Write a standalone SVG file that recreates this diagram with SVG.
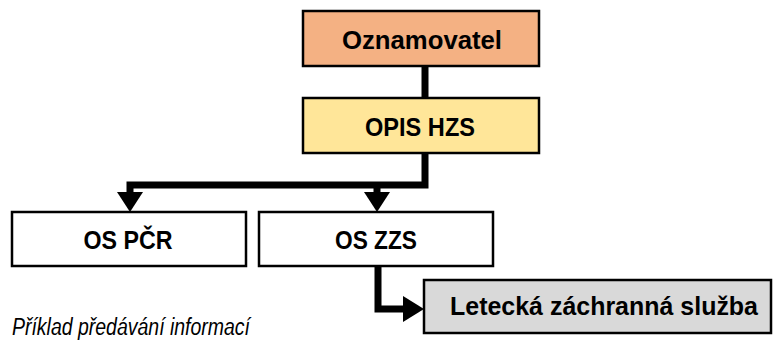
<svg xmlns="http://www.w3.org/2000/svg" width="773" height="343" viewBox="0 0 773 343">
<defs>
<style>
.box{stroke:#000;stroke-width:2.5}
.lbl{font-family:"Liberation Sans",Arial,sans-serif;font-weight:bold;font-size:25px;fill:#000;text-anchor:middle}
.conn{fill:none;stroke:#000;stroke-width:7;stroke-linejoin:miter}
.cap{font-family:"Liberation Sans",Arial,sans-serif;font-style:italic;font-size:23px;fill:#000}
</style>
</defs>
<rect width="773" height="343" fill="#fff"/>
<g id="connectors">
<path class="conn" d="M425 66 V98"/>
<path class="conn" d="M425 153 V185 H130 V194"/>
<path class="conn" d="M377 185 V194"/>
<polygon points="117,192 143,192 130,212"/>
<polygon points="364,192 390,192 377,212"/>
<path class="conn" d="M378 266 V309 H405"/>
<polygon points="403,296 403,322 424,309"/>
</g>
<g id="oznamovatel">
<rect class="box" x="303" y="11" width="236" height="55" fill="#F4B183"/>
<text class="lbl" x="422" y="49" textLength="160" lengthAdjust="spacingAndGlyphs">Oznamovatel</text>
</g>
<g id="opis-hzs">
<rect class="box" x="303" y="98" width="236" height="55" fill="#FFE699"/>
<text class="lbl" x="420" y="136" textLength="110" lengthAdjust="spacingAndGlyphs">OPIS HZS</text>
</g>
<g id="os-pcr">
<rect class="box" x="12" y="212" width="234" height="54" fill="#fff"/>
<text class="lbl" x="128" y="249" textLength="89" lengthAdjust="spacingAndGlyphs">OS PČR</text>
</g>
<g id="os-zzs">
<rect class="box" x="259" y="212" width="234" height="54" fill="#fff"/>
<text class="lbl" x="376" y="249" textLength="82" lengthAdjust="spacingAndGlyphs">OS ZZS</text>
</g>
<g id="letecka">
<rect class="box" x="424" y="280" width="347" height="53" fill="#D9D9D9"/>
<text class="lbl" x="604" y="315" textLength="308" lengthAdjust="spacingAndGlyphs">Letecká záchranná služba</text>
</g>
<text class="cap" x="12" y="335" textLength="238" lengthAdjust="spacingAndGlyphs">Příklad předávání informací</text>
</svg>
